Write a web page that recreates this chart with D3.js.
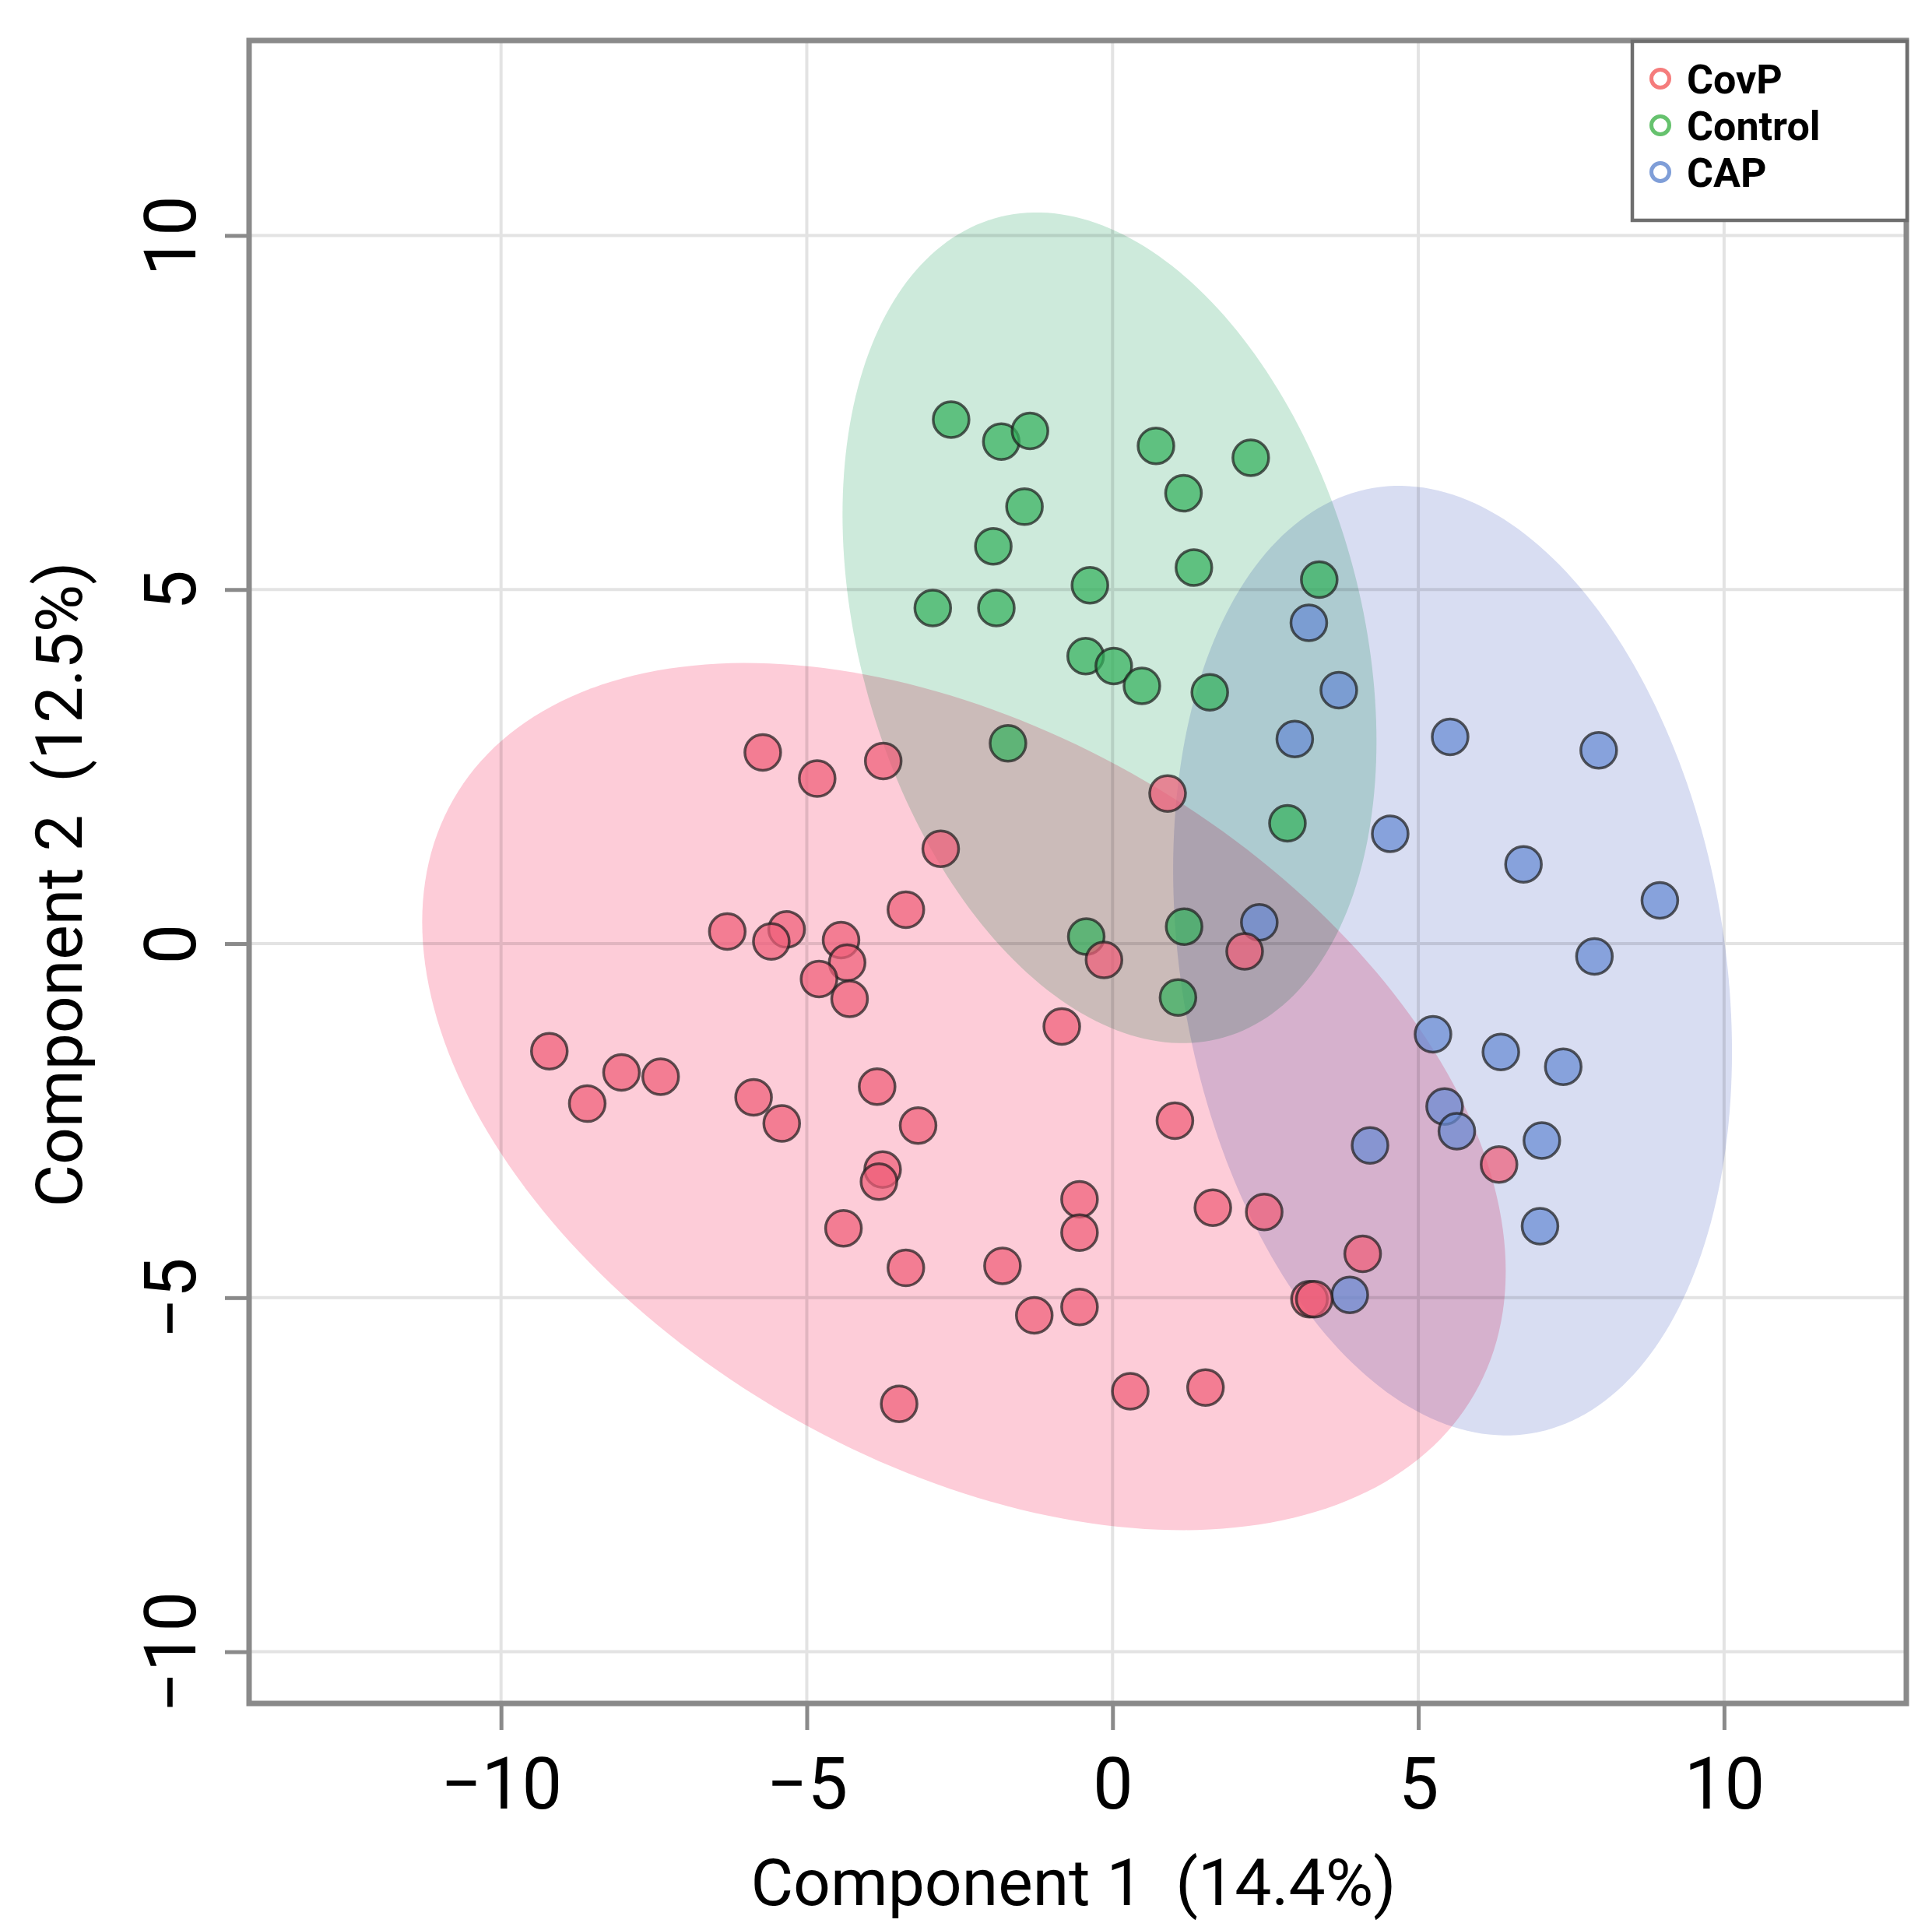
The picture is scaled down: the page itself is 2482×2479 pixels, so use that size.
<!DOCTYPE html>
<html>
<head>
<meta charset="utf-8">
<script src="https://cdn.jsdelivr.net/npm/d3@7"></script>
<style>
  body { margin: 0; background: #fff; }
  text { font-family: Roboto, 'Noto Sans', sans-serif; }
</style>
</head>
<body>
<div id="chartbox"></div>
<script>
// score plot data (Component 1, Component 2)
const groups = ['CovP', 'Control', 'CAP']

const covp = [
  [-5.72, 2.70], [-4.83, 2.33], [-3.75, 2.58], [-2.81, 1.34], [0.90, 2.12],
  [-3.38, 0.48], [-6.30, 0.17], [-5.33, 0.20], [-5.58, 0.03], [-4.44, 0.05],
  [-4.34, -0.27], [-4.80, -0.50], [-4.30, -0.78], [-0.83, -1.17], [-9.21, -1.52],
  [-8.03, -1.82], [-7.39, -1.88], [-8.59, -2.26], [-5.87, -2.17], [-5.41, -2.54],
  [-3.85, -2.02], [-3.18, -2.57], [-3.76, -3.19], [-3.82, -3.36], [-4.40, -4.02],
  [-3.38, -4.58], [-1.80, -4.55], [-1.28, -5.25], [-0.54, -5.13], [-0.54, -3.61],
  [-0.54, -4.08], [-3.49, -6.50], [0.29, -6.32], [1.52, -6.27], [-0.14, -0.23],
  [2.16, -0.11], [1.02, -2.50], [1.64, -3.73], [2.48, -3.79], [4.09, -4.38],
  [3.22, -5.02], [3.30, -5.02], [6.32, -3.12]
]

const control = [
  [-2.64, 7.40], [-1.82, 7.09], [-1.35, 7.24], [-1.44, 6.17], [-1.95, 5.61],
  [-2.94, 4.74], [-1.90, 4.74], [-1.71, 2.83], [0.71, 7.03], [2.26, 6.86],
  [1.16, 6.36], [1.33, 5.31], [-0.37, 5.06], [3.38, 5.14], [-0.44, 4.06],
  [0.02, 3.92], [0.48, 3.64], [1.59, 3.55], [2.86, 1.70], [-0.43, 0.10],
  [1.17, 0.24], [1.07, -0.76]
]

const cap = [
  [3.21, 4.53], [3.70, 3.58], [2.98, 2.89], [5.52, 2.92], [7.95, 2.73],
  [4.54, 1.55], [6.72, 1.12], [8.95, 0.61], [7.88, -0.18], [2.40, 0.30],
  [5.24, -1.28], [6.35, -1.53], [7.37, -1.74], [5.43, -2.30], [5.63, -2.65],
  [4.21, -2.85], [7.02, -2.78], [6.99, -3.99], [3.88, -4.96]
]

// ellipse centre and shape (sxx, syy, sxy) per group
const ellipseCenter = [[-2.43, -2.16], [-0.05, 4.46], [5.56, -0.24]]
const ellipseShape = [[78.49, 37.49, -21.85], [19.06, 34.40, -6.99], [20.88, 44.96, -5.87]]

const xTicks = [-10, -5, 0, 5, 10]
const yTicks = [-10, -5, 0, 5, 10]
const xTitle = 'Component 1  (14.4%)'
const yTitle = 'Component 2  (12.5%)'

const WIDTH = 2482
const HEIGHT = 2479
const box = { left: 320, right: 2449, top: 52, bottom: 2188 }

const pointColors = ['#ee5e78', '#34b25d', '#688ad2']
const areaColors = ['#fdccd8', '#cdeadb', '#d8ddf2']
const legendColors = ['#f57c7c', '#66c26e', '#7f9ed8']

const x = d3.scaleLinear().domain([-14.12, 12.98]).range([box.left, box.right])
const y = d3.scaleLinear().domain([-10.73, 12.754]).range([box.bottom, box.top])

const svg = d3.select('#chartbox')
  .append('svg')
  .attr('width', WIDTH)
  .attr('height', HEIGHT)
  .style('background-color', '#fff')

// grid
const grid = svg.append('g').attr('stroke', '#e3e3e3').attr('stroke-width', 4)
grid.selectAll('.vx')
  .data(xTicks)
  .enter()
  .append('line')
  .attr('x1', d => x(d)).attr('x2', d => x(d))
  .attr('y1', box.top).attr('y2', box.bottom)
grid.selectAll('.hy')
  .data(yTicks)
  .enter()
  .append('line')
  .attr('y1', d => y(d)).attr('y2', d => y(d))
  .attr('x1', box.left).attr('x2', box.right)

// confidence ellipses
const ellipsePath = (c, s) => {
  const l11 = Math.sqrt(s[0])
  const l21 = s[2] / l11
  const l22 = Math.sqrt(s[1] - l21 * l21)
  const pts = d3.range(0, 2 * Math.PI, Math.PI / 120)
    .map(t => [c[0] + l11 * Math.cos(t), c[1] + l21 * Math.cos(t) + l22 * Math.sin(t)])
  return d3.line().x(d => x(d[0])).y(d => y(d[1])).curve(d3.curveLinearClosed)(pts)
}

svg.append('g')
  .selectAll('path')
  .data(groups)
  .enter()
  .append('path')
  .attr('d', (d, i) => ellipsePath(ellipseCenter[i], ellipseShape[i]))
  .attr('fill', (d, i) => areaColors[i])
  .style('mix-blend-mode', 'multiply')

// points, CAP first so CovP sits on top
const sets = [covp, control, cap]
;[2, 1, 0].forEach(i => {
  svg.append('g')
    .selectAll('circle')
    .data(sets[i])
    .enter()
    .append('circle')
    .attr('cx', d => x(d[0]))
    .attr('cy', d => y(d[1]))
    .attr('r', 23)
    .attr('fill', pointColors[i])
    .attr('fill-opacity', 0.72)
    .attr('stroke', '#1f1f1f')
    .attr('stroke-opacity', 0.72)
    .attr('stroke-width', 3.5)
})

// axes
const fmt = d => d < 0 ? '\u2212' + Math.abs(d) : String(d)

const xAxis = svg.append('g')
  .attr('transform', 'translate(0,' + box.bottom + ')')
  .call(d3.axisBottom(x).tickValues(xTicks).tickFormat(fmt).tickSize(34).tickPadding(36))
xAxis.select('.domain').remove()
xAxis.selectAll('line').attr('stroke', '#8a8a8a').attr('stroke-width', 5)
xAxis.selectAll('text').attr('font-size', 92).attr('fill', '#000')
  .style('font-family', 'Roboto')

const yAxis = svg.append('g')
  .attr('transform', 'translate(' + box.left + ',0)')
  .call(d3.axisLeft(y).tickValues(yTicks).tickFormat(fmt).tickSize(31))
yAxis.select('.domain').remove()
yAxis.selectAll('line').attr('stroke', '#8a8a8a').attr('stroke-width', 5)
yAxis.selectAll('text')
  .attr('x', 0).attr('dy', 0)
  .attr('text-anchor', 'middle')
  .attr('transform', 'translate(-69,0) rotate(-90)')
  .attr('font-size', 92).attr('fill', '#000')
  .style('font-family', 'Roboto')

// frame
svg.append('rect')
  .attr('x', box.left).attr('y', box.top)
  .attr('width', box.right - box.left)
  .attr('height', box.bottom - box.top)
  .attr('fill', 'none')
  .attr('stroke', '#8a8a8a')
  .attr('stroke-width', 7)

// titles
svg.append('text')
  .attr('x', 1379).attr('y', 2447)
  .attr('text-anchor', 'middle')
  .attr('font-size', 84)
  .style('white-space', 'pre')
  .text(xTitle)

svg.append('text')
  .attr('transform', 'translate(105,1136) rotate(-90)')
  .attr('text-anchor', 'middle')
  .attr('font-size', 84)
  .style('white-space', 'pre')
  .text(yTitle)

// legend
const legend = svg.append('g')
legend.append('rect')
  .attr('x', 2097).attr('y', 53)
  .attr('width', 353).attr('height', 230)
  .attr('fill', '#fff')
  .attr('stroke', '#6e6e6e')
  .attr('stroke-width', 4.5)

const item = legend.selectAll('.item')
  .data(groups)
  .enter()
  .append('g')
  .attr('transform', (d, i) => 'translate(2133,' + (120 + i * 60) + ')')

item.append('circle')
  .attr('cy', -19)
  .attr('r', 11.5)
  .attr('fill', '#fff')
  .attr('stroke', (d, i) => legendColors[i])
  .attr('stroke-width', 5)

item.append('text')
  .attr('x', 34)
  .attr('font-size', 52)
  .attr('font-weight', 'bold')
  .text(d => d)
</script>
</body>
</html>
